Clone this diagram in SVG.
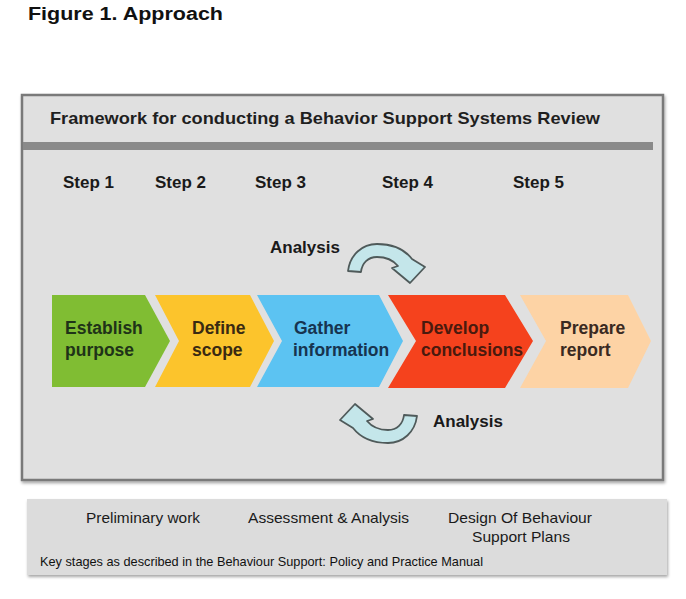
<svg xmlns="http://www.w3.org/2000/svg" width="686" height="599" viewBox="0 0 686 599">
  <style>
    .b { font-family: "Liberation Sans", Arial, sans-serif; font-weight: bold; }
    .r { font-family: "Liberation Sans", Arial, sans-serif; }
    .step { font-size: 17px; fill: #1a1a1a; }
    .chev { font-size: 17.5px; }
    .arr { fill: #c4e6ea; stroke: #4f5a5a; stroke-width: 1.8; stroke-linejoin: round; }
    .stage { font-size: 15px; fill: #1a1a1a; }
  </style>
  <defs>
    <filter id="sh" x="-5%" y="-10%" width="110%" height="130%">
      <feDropShadow dx="1" dy="2" stdDeviation="1.5" flood-color="#000" flood-opacity="0.35"/>
    </filter>
  </defs>
  <rect width="686" height="599" fill="#ffffff"/>

  <text id="title" class="b" x="28" y="20" font-size="17.5" fill="#111" textLength="195" lengthAdjust="spacingAndGlyphs">Figure 1. Approach</text>

  <g id="framework">
    <rect x="22" y="95" width="641" height="385" fill="#e0e0e0" stroke="#7a7a7a" stroke-width="2.5" filter="url(#sh)"/>
    <rect x="23" y="142" width="630" height="8" fill="#8a8a8a"/>
    <text class="b" x="50" y="124" font-size="17" fill="#1f1f1f" textLength="550" lengthAdjust="spacingAndGlyphs">Framework for conducting a Behavior Support Systems Review</text>
  </g>

  <g id="steps">
    <text class="b step" x="63" y="188">Step 1</text>
    <text class="b step" x="155" y="188">Step 2</text>
    <text class="b step" x="255" y="188">Step 3</text>
    <text class="b step" x="382" y="188">Step 4</text>
    <text class="b step" x="513" y="188">Step 5</text>
  </g>

  <g id="establish">
    <polygon points="52,295 145,295 170,341 145,387 52,387" fill="#80bd33"/>
    <text class="b chev" x="65" y="334" fill="#1f3318">Establish</text>
    <text class="b chev" x="65" y="356" fill="#1f3318">purpose</text>
  </g>
  <g id="define">
    <polygon points="155,295 250,295 274,341 250,387 155,387 179,341" fill="#fcc42c"/>
    <text class="b chev" x="192" y="334" fill="#3a2a12">Define</text>
    <text class="b chev" x="192" y="356" fill="#3a2a12">scope</text>
  </g>
  <g id="gather">
    <polygon points="257,295 379,295 403,341 379,387 257,387 282,341" fill="#5cc3f2"/>
    <text class="b chev" x="294" y="334" fill="#173450">Gather</text>
    <text class="b chev" x="293" y="356" fill="#173450">information</text>
  </g>
  <g id="develop">
    <polygon points="388,295 505,295 533,341 505,388 388,388 416,341" fill="#f5421d"/>
    <text class="b chev" x="421" y="334" fill="#4a1a0e">Develop</text>
    <text class="b chev" x="421" y="356" fill="#4a1a0e">conclusions</text>
  </g>
  <g id="prepare">
    <polygon points="520,295 628,295 651,341 628,388 520,388 546,341" fill="#fdd3a5"/>
    <text class="b chev" x="560" y="334" fill="#3a2a22">Prepare</text>
    <text class="b chev" x="560" y="356" fill="#3a2a22">report</text>
  </g>

  <g id="connectors">
    <g id="analysis-top">
      <path class="arr" d="M348,271 C350,255 362,244 377,244 C393,244 405,250 412,259 L425,267 L410,283 L392,268 L398,266 C393,260 386,257 377,257 C368,257 362,263 361,272 Z"/>
      <text class="b" x="270" y="253" font-size="17" fill="#1a1a1a">Analysis</text>
    </g>
    <g id="analysis-bottom">
      <path class="arr" transform="translate(-7,161) rotate(180 386 263)" d="M348,271 C350,255 362,244 377,244 C393,244 405,250 412,259 L425,267 L410,283 L392,268 L398,266 C393,260 386,257 377,257 C368,257 362,263 361,272 Z"/>
      <text class="b" x="433" y="427" font-size="17" fill="#1a1a1a">Analysis</text>
    </g>
  </g>

  <g id="stages">
    <rect x="27" y="499" width="640" height="76" fill="#dcdcdc" filter="url(#sh)"/>
    <text class="r stage" x="86" y="523" textLength="114" lengthAdjust="spacingAndGlyphs">Preliminary work</text>
    <text class="r stage" x="248" y="523" textLength="161" lengthAdjust="spacingAndGlyphs">Assessment &amp; Analysis</text>
    <text class="r stage" x="520" y="523" text-anchor="middle" textLength="144" lengthAdjust="spacingAndGlyphs">Design Of Behaviour</text>
    <text class="r stage" x="521" y="542" text-anchor="middle" textLength="98" lengthAdjust="spacingAndGlyphs">Support Plans</text>
    <text class="r" x="40" y="566" font-size="13" fill="#111" textLength="443" lengthAdjust="spacingAndGlyphs">Key stages as described in the Behaviour Support: Policy and Practice Manual</text>
  </g>
</svg>
